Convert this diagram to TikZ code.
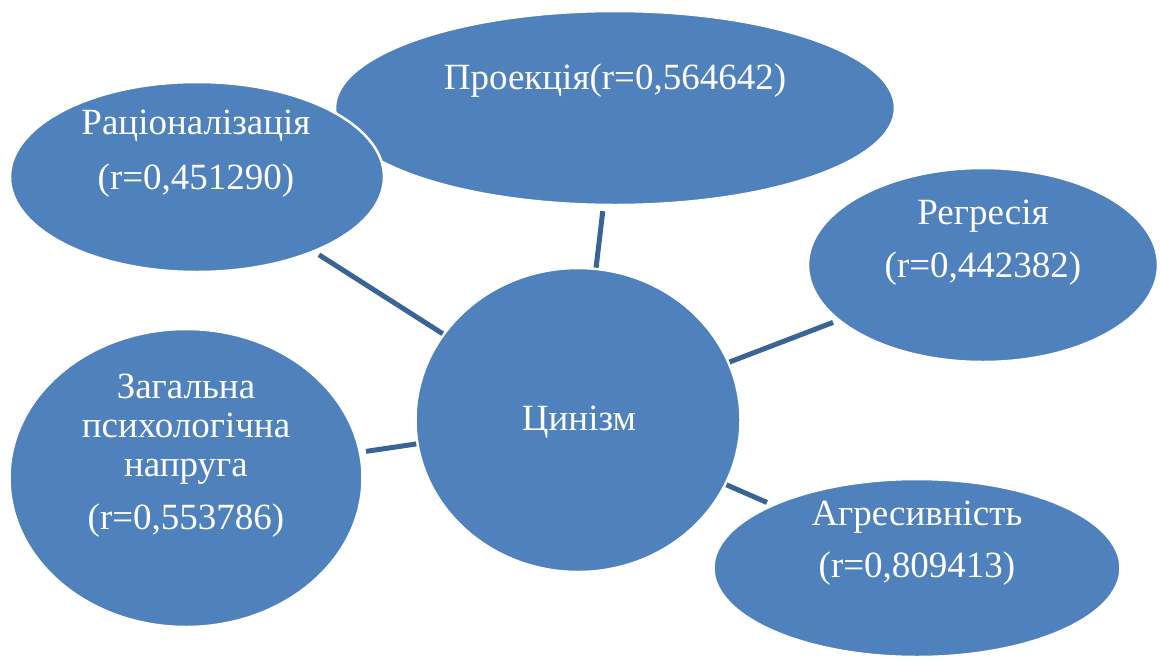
\documentclass[tikz,border=0pt]{standalone}
\usepackage{fontspec}
\setmainfont{Liberation Serif}
\usetikzlibrary{shapes.geometric}
\definecolor{fillblue}{HTML}{4F81BD}
\definecolor{linkblue}{HTML}{3B6496}
\begin{document}
\begin{tikzpicture}[x=1pt,y=-1pt,
  bub/.style={ellipse, fill=fillblue, draw=white, line width=2.5pt, inner sep=0pt},
  conn/.style={draw=linkblue, line width=5pt, shorten <=0pt, shorten >=5pt},
  lbl/.style={text=white, anchor=base, inner sep=0pt, font=\fontsize{37}{42}\selectfont}]
\useasboundingbox (0,0) rectangle (1161,659);
\node[bub, minimum width=560, minimum height=194] (proj) at (615,108) {};
\node[bub, minimum width=374, minimum height=190] (rat) at (197,177) {};
\node[bub, minimum width=350, minimum height=194] (reg) at (983,265) {};
\node[bub, minimum width=325, minimum height=304] (cyn) at (578,420) {};
\node[bub, minimum width=353, minimum height=298] (zah) at (186,478) {};
\node[bub, minimum width=407, minimum height=178] (agr) at (917,568) {};

\draw[conn] (cyn) -- (proj);
\draw[conn] (cyn) -- (rat);
\draw[conn] (cyn) -- (reg);
\draw[conn] (cyn) -- (zah);
\draw[conn] (cyn) -- (agr);

\node[lbl] (tproj) at (615,89) {Проекція(r=0,564642)};
\node[lbl] (trat1) at (196,134) {Раціоналізація};
\node[lbl] (trat2) at (196,189) {(r=0,451290)};
\node[lbl] (treg1) at (983,224) {Регресія};
\node[lbl] (treg2) at (983,277) {(r=0,442382)};
\node[lbl] (tcyn) at (579,430) {Цинізм};
\node[lbl] (tagr1) at (917,525) {Агресивність};
\node[lbl] (tagr2) at (917,577) {(r=0,809413)};
\node[lbl] (tzah1) at (186,398) {Загальна};
\node[lbl] (tzah2) at (186,437) {психологічна};
\node[lbl] (tzah3) at (186,476) {напруга};
\node[lbl] (tzah4) at (186,529) {(r=0,553786)};
\end{tikzpicture}
\end{document}
